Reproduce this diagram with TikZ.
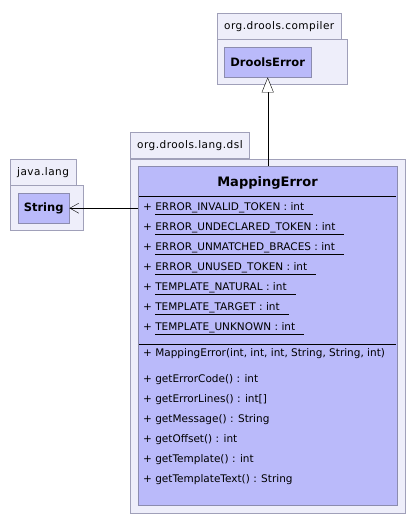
\documentclass[tikz,border=0pt]{standalone}
\usepackage{fontspec}
\setmainfont{DejaVu Sans}
\usepackage{tikz}
\usetikzlibrary{
    arrows.meta,             % For modern arrow tips
    positioning              % For relative placement of nodes
}
\definecolor{pkgfill}{RGB}{238,238,250}
\definecolor{pkgline}{RGB}{160,160,185}
\definecolor{clsfill}{RGB}{186,186,250}
\definecolor{clsline}{RGB}{140,140,175}

\begin{document}
\begin{tikzpicture}[
    x=1pt, y=-1pt,
    font=\fontsize{10.5}{12}\selectfont,
    pkgtab/.style={
        draw=pkgline,
        fill=pkgfill,
        anchor=north west,
        inner xsep=7pt,
        inner ysep=0pt,
        minimum height=26pt,
        font=\fontsize{10.5}{12}\selectfont\addfontfeature{LetterSpace=4.5}
    },
    pkgbody/.style={draw=pkgline, fill=pkgfill, anchor=north west, inner sep=0pt},
    classbox/.style={draw=clsline, fill=clsfill, anchor=north west, inner sep=0pt},
    classname/.style={font=\bfseries\fontsize{11.5}{13}\selectfont},
    member/.style={anchor=west, inner sep=0pt},
    inherit/.style={-{Triangle[length=15pt, width=12pt, fill=white]}},
    uses/.style={-{Straight Barb[length=9pt, width=10pt]}}
]
    \useasboundingbox (0,0) rectangle (416,527);

    % --- Package org.drools.compiler ---
    \node[pkgtab] (compTab) at (217,13) {org.drools.compiler};
    \node[pkgbody, minimum width=130pt, minimum height=45pt] (compPkg) at (217,39) {};
    \node[classbox, classname, minimum width=87pt, minimum height=30pt] (droolsError) at (224,47) {DroolsError};

    % --- Package java.lang ---
    \node[pkgtab] (langTab) at (10,159) {java.lang};
    \node[pkgbody, minimum width=73pt, minimum height=45pt] (langPkg) at (10,185) {};
    \node[classbox, classname, minimum width=51pt, minimum height=30pt] (string) at (18,193) {String};

    % --- Package org.drools.lang.dsl ---
    \node[pkgtab] (dslTab) at (130,132) {org.drools.lang.dsl};
    \node[pkgbody, minimum width=275pt, minimum height=354pt] (dslPkg) at (130,159) {};
    \node[classbox, minimum width=259pt, minimum height=339pt] (mappingError) at (138,166) {};
    \node[font=\bfseries\fontsize{13}{15}\selectfont] (title) at (267.5,183) {MappingError};
    \draw (139,196) -- (396,196); % attributes
    \draw (139,344) -- (396,344); % operations

    % --- Attributes (static, underlined) ---
    \foreach \y/\t [count=\i] in {
        209/ERROR\_INVALID\_TOKEN,
        229/ERROR\_UNDECLARED\_TOKEN,
        249/ERROR\_UNMATCHED\_BRACES,
        269/ERROR\_UNUSED\_TOKEN,
        289/TEMPLATE\_NATURAL,
        309/TEMPLATE\_TARGET,
        329/TEMPLATE\_UNKNOWN} {
        \node[member] (attr\i) at (143,\y) {+ \underline{\t\ : int\hspace{9pt}}};
    }

    % --- Operations ---
    \node[member] (ctor) at (143,354) {+ MappingError(int, int, int, String, String, int)};
    \foreach \y/\t [count=\i] in {
        380/getErrorCode() : int,
        400/getErrorLines() : int[],
        420/getMessage() : String,
        440/getOffset() : int,
        460/getTemplate() : int,
        480/getTemplateText() : String} {
        \node[member] (op\i) at (143,\y) {+ \t};
    }

    % --- Relations ---
    \draw[inherit] (mappingError.north) -- (droolsError.south);
    \draw[uses] (string -| mappingError.west) -- (string.east);

\end{tikzpicture}
\end{document}
